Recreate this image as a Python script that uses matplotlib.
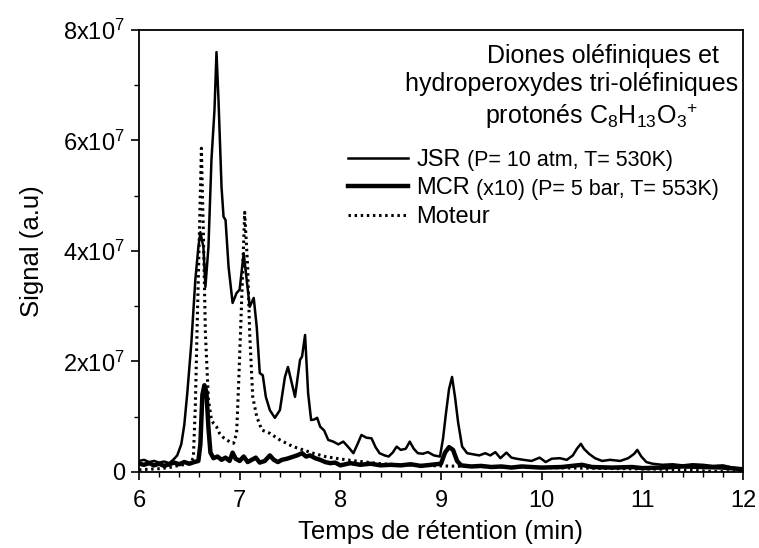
import matplotlib
matplotlib.use("Agg")
from matplotlib import pyplot as plt
from matplotlib.ticker import MultipleLocator

plt.rcParams['font.family'] = ['Liberation Sans', 'DejaVu Sans']
plt.rcParams['mathtext.fontset'] = 'custom'
plt.rcParams['mathtext.rm'] = 'Liberation Sans'
plt.rcParams['mathtext.it'] = 'Liberation Sans:italic'

# signal in units of 1e7
jsr_t = [6.00, 6.05, 6.10, 6.15, 6.20, 6.25, 6.30, 6.34, 6.38, 6.42, 6.45, 6.48, 6.52, 6.56, 6.59, 6.61,
         6.64, 6.66, 6.69, 6.72, 6.75, 6.77, 6.79, 6.82, 6.84, 6.86, 6.89, 6.93, 6.97, 7.00, 7.04, 7.07,
         7.10, 7.14, 7.17, 7.20, 7.23, 7.26, 7.30, 7.35, 7.40, 7.45, 7.48, 7.51, 7.55, 7.60, 7.62, 7.65,
         7.68, 7.71, 7.74, 7.77, 7.80, 7.84, 7.88, 7.93, 7.98, 8.03, 8.08, 8.13, 8.17, 8.21, 8.26, 8.31,
         8.35, 8.39, 8.44, 8.48, 8.52, 8.56, 8.60, 8.65, 8.69, 8.73, 8.77, 8.82, 8.87, 8.93, 8.99, 9.02,
         9.05, 9.08, 9.11, 9.14, 9.17, 9.21, 9.26, 9.32, 9.38, 9.44, 9.49, 9.54, 9.59, 9.65, 9.70, 9.75,
         9.82, 9.90, 9.98, 10.04, 10.10, 10.18, 10.25, 10.31, 10.35, 10.39, 10.42, 10.47, 10.53, 10.60,
         10.68, 10.78, 10.86, 10.92, 10.95, 10.99, 11.04, 11.10, 11.20, 11.30, 11.40, 11.50, 11.60, 11.70,
         11.80, 11.90, 12.00]
jsr_s = [0.20, 0.22, 0.18, 0.20, 0.17, 0.19, 0.16, 0.22, 0.30, 0.50, 0.85, 1.43, 2.33, 3.48, 4.07, 4.34,
         4.07, 3.35, 4.07, 5.65, 6.55, 7.60, 6.73, 5.16, 4.62, 4.56, 3.71, 3.06, 3.24, 3.30, 3.96, 3.48,
         2.99, 3.15, 2.62, 1.79, 1.75, 1.36, 1.12, 0.98, 1.12, 1.72, 1.90, 1.67, 1.36, 2.03, 2.09, 2.48,
         1.43, 0.94, 0.95, 0.98, 0.82, 0.75, 0.58, 0.55, 0.50, 0.55, 0.45, 0.34, 0.50, 0.67, 0.62, 0.61,
         0.45, 0.34, 0.30, 0.28, 0.35, 0.46, 0.40, 0.42, 0.55, 0.42, 0.34, 0.33, 0.36, 0.30, 0.28, 0.60,
         1.07, 1.50, 1.72, 1.35, 0.90, 0.46, 0.34, 0.32, 0.30, 0.34, 0.30, 0.36, 0.25, 0.35, 0.26, 0.24,
         0.22, 0.20, 0.26, 0.18, 0.24, 0.25, 0.22, 0.30, 0.42, 0.51, 0.42, 0.33, 0.25, 0.20,
         0.22, 0.20, 0.25, 0.33, 0.40, 0.28, 0.18, 0.15, 0.13, 0.14, 0.12, 0.14, 0.13, 0.11,
         0.12, 0.08, 0.05]

mcr_t = [6.00, 6.05, 6.10, 6.15, 6.20, 6.25, 6.30, 6.35, 6.40, 6.45, 6.50, 6.55, 6.59, 6.61, 6.63, 6.65,
         6.67, 6.69, 6.71, 6.74, 6.78, 6.82, 6.86, 6.90, 6.93, 6.96, 7.00, 7.04, 7.08, 7.12, 7.16, 7.20,
         7.25, 7.30, 7.34, 7.38, 7.42, 7.47, 7.52, 7.57, 7.62, 7.66, 7.70, 7.75, 7.80, 7.85, 7.90, 7.95,
         8.00, 8.05, 8.10, 8.20, 8.30, 8.40, 8.50, 8.60, 8.70, 8.80, 8.90, 9.00, 9.04, 9.08, 9.12, 9.16,
         9.20, 9.30, 9.40, 9.50, 9.60, 9.70, 9.80, 9.90, 10.00, 10.20, 10.40, 10.50, 10.70, 10.90, 11.00,
         11.20, 11.40, 11.60, 11.80, 12.00]
mcr_s = [0.15, 0.13, 0.16, 0.12, 0.15, 0.11, 0.14, 0.17, 0.14, 0.18, 0.15, 0.18, 0.20, 0.50, 1.40, 1.57,
         1.45, 0.80, 0.35, 0.25, 0.28, 0.22, 0.26, 0.20, 0.35, 0.24, 0.20, 0.28, 0.18, 0.22, 0.26, 0.17,
         0.20, 0.30, 0.22, 0.18, 0.22, 0.24, 0.27, 0.30, 0.34, 0.28, 0.30, 0.25, 0.22, 0.18, 0.16, 0.17,
         0.12, 0.14, 0.16, 0.13, 0.15, 0.12, 0.13, 0.12, 0.14, 0.11, 0.13, 0.15, 0.35, 0.45, 0.40, 0.20,
         0.12, 0.10, 0.11, 0.09, 0.10, 0.08, 0.10, 0.09, 0.08, 0.09, 0.13, 0.09, 0.08, 0.09, 0.07,
         0.08, 0.10, 0.09, 0.08, 0.05]

mot_t = [6.00, 6.10, 6.20, 6.30, 6.40, 6.50, 6.54, 6.56, 6.58, 6.60, 6.62, 6.64, 6.66, 6.69, 6.72, 6.74,
         6.77, 6.80, 6.84, 6.87, 6.91, 6.94, 6.97, 6.99, 7.02, 7.05, 7.08, 7.10, 7.13, 7.17, 7.22, 7.30,
         7.40, 7.53, 7.63, 7.73, 7.85, 7.95, 8.06, 8.20, 8.40, 8.60, 8.80, 9.00, 9.30, 9.60, 10.00, 10.40,
         10.80, 11.20, 11.50, 11.70, 12.00]
mot_s = [0.04, 0.05, 0.06, 0.08, 0.12, 0.15, 0.25, 1.20, 2.80, 4.30, 5.86, 4.30, 2.50, 1.30, 0.95, 0.88,
         0.82, 0.70, 0.62, 0.58, 0.54, 0.52, 0.70, 1.60, 3.10, 4.70, 3.70, 2.50, 1.36, 1.00, 0.76, 0.70,
         0.58, 0.46, 0.40, 0.34, 0.28, 0.25, 0.22, 0.19, 0.15, 0.13, 0.12, 0.11, 0.10, 0.09, 0.08, 0.07,
         0.06, 0.05, 0.03, 0.01, 0.00]

y_ticks = [0, 2, 4, 6, 8]
y_tick_labels = ['0', '2x10$^{7}$', '4x10$^{7}$', '6x10$^{7}$', '8x10$^{7}$']
x_ticks = [6, 7, 8, 9, 10, 11, 12]

fig = plt.figure(figsize=(7.59, 5.48), dpi=100)
ax = fig.add_axes([0.1831, 0.1387, 0.7958, 0.8066])

l1, = ax.plot(jsr_t, jsr_s, color='black', lw=1.8, label='JSR')
l2, = ax.plot(mcr_t, mcr_s, color='black', lw=3.2, label='MCR')
l3, = ax.plot(mot_t, mot_s, color='black', lw=2.2, linestyle=(0, (0.8, 1.2)), label='Moteur')

ax.set_xlim(6, 12)
ax.set_ylim(0, 8)
ax.set_xticks(x_ticks)
ax.set_yticks(y_ticks)
ax.set_yticklabels(y_tick_labels)
ax.xaxis.set_minor_locator(MultipleLocator(0.2))
ax.yaxis.set_minor_locator(MultipleLocator(1))
ax.tick_params(which='major', direction='out', length=6, width=1.2, labelsize=17)
ax.tick_params(axis='x', which='major', pad=7)
ax.tick_params(axis='y', which='major', pad=4)
ax.tick_params(which='minor', direction='out', length=3.5, width=1.0)
for sp in ax.spines.values():
    sp.set_linewidth(1.3)

ax.set_xlabel('Temps de rétention (min)', fontsize=18.5, labelpad=6)
ax.set_ylabel('Signal (a.u)', fontsize=18.5, labelpad=14)

# annotation block
ax.text(0.960, 0.925, 'Diones oléfiniques et', transform=ax.transAxes, ha='right', va='baseline', fontsize=18)
ax.text(0.992, 0.862, 'hydroperoxydes tri-oléfiniques', transform=ax.transAxes, ha='right', va='baseline',
        fontsize=18)
ax.text(0.925, 0.787, 'protonés C$_{8}$H$_{13}$O$_{3}$$^{+}$', transform=ax.transAxes, ha='right',
        va='baseline', fontsize=18)

leg = ax.legend(handles=[l1, l2, l3], loc='upper left', bbox_to_anchor=(0.346, 0.731), frameon=False,
                fontsize=17, handlelength=2.55, handletextpad=0.34, borderpad=0, borderaxespad=0,
                labelspacing=0.28)

# smaller condition text after each legend label
small = [' (P= 10 atm, T= 530K)', ' (x10) (P= 5 bar, T= 553K)', '']
fig.canvas.draw()
inv = ax.transAxes.inverted()
for txt, s in zip(leg.get_texts(), small):
    if s:
        bb = txt.get_window_extent()
        x0, y0 = inv.transform((bb.x1, bb.y0 + 0.45 * bb.height))
        ax.text(x0, y0, s, transform=ax.transAxes, ha='left', va='center', fontsize=15.5)

fig.savefig('out.png', dpi=100)
